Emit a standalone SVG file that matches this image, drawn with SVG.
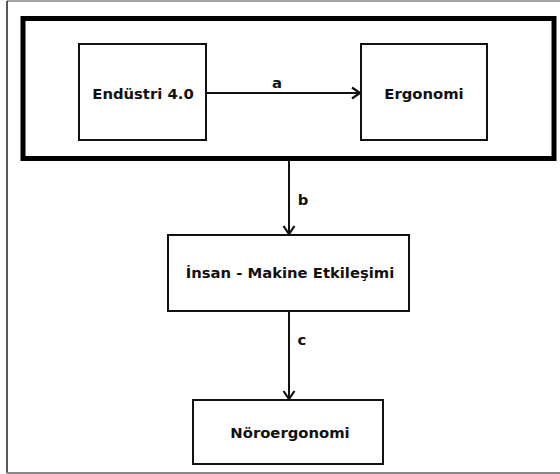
<svg xmlns="http://www.w3.org/2000/svg" width="560" height="474" viewBox="0 0 560 474">
  <defs>
    <style>
      .box { fill: #ffffff; stroke: #111111; stroke-width: 2; }
      .group { fill: none; stroke: #000000; stroke-width: 5; }
      .lbl { font-family: "DejaVu Sans", sans-serif; font-weight: bold; font-size: 14.8px; fill: #111111; text-anchor: middle; }
      .edge { fill: none; stroke: #111111; stroke-width: 2; }
    </style>
    <marker id="arr" markerUnits="userSpaceOnUse" markerWidth="14" markerHeight="14" viewBox="0 0 14 14" refX="11" refY="7" orient="auto">
      <path d="M3,1.5 L11,7 L3,12.5" fill="none" stroke="#111111" stroke-width="2.2"/>
    </marker>
  </defs>
  <rect x="0" y="0" width="560" height="474" fill="#ffffff"/>
  <g id="frame">
    <line x1="7" y1="1" x2="560" y2="1" stroke="#888888" stroke-width="1.5"/>
    <line x1="7" y1="1" x2="7" y2="473" stroke="#222222" stroke-width="1.5"/>
    <line x1="7" y1="473" x2="560" y2="473" stroke="#888888" stroke-width="2"/>
  </g>
  <g id="industry-group">
    <rect class="group" x="23" y="18.5" width="531" height="140"/>
  </g>
  <g id="connectors">
    <line class="edge" x1="206" y1="93" x2="360" y2="93" marker-end="url(#arr)"/>
    <line class="edge" x1="289" y1="161" x2="289" y2="234" marker-end="url(#arr)"/>
    <line class="edge" x1="289" y1="312" x2="289" y2="399" marker-end="url(#arr)"/>
    <text class="lbl" x="277" y="88">a</text>
    <text class="lbl" x="303" y="205">b</text>
    <text class="lbl" x="302" y="345">c</text>
  </g>
  <g id="endustri">
    <rect class="box" x="79" y="44" width="127" height="96"/>
    <text class="lbl" x="143" y="98.5">Endüstri 4.0</text>
  </g>
  <g id="ergonomi">
    <rect class="box" x="361" y="44" width="126" height="96"/>
    <text class="lbl" x="424" y="98.5">Ergonomi</text>
  </g>
  <g id="insan-makine">
    <rect class="box" x="168" y="235" width="241" height="76"/>
    <text class="lbl" x="290" y="278">İnsan - Makine Etkileşimi</text>
  </g>
  <g id="noroergonomi">
    <rect class="box" x="193" y="400" width="190" height="64"/>
    <text class="lbl" x="290" y="437.5">Nöroergonomi</text>
  </g>
</svg>
